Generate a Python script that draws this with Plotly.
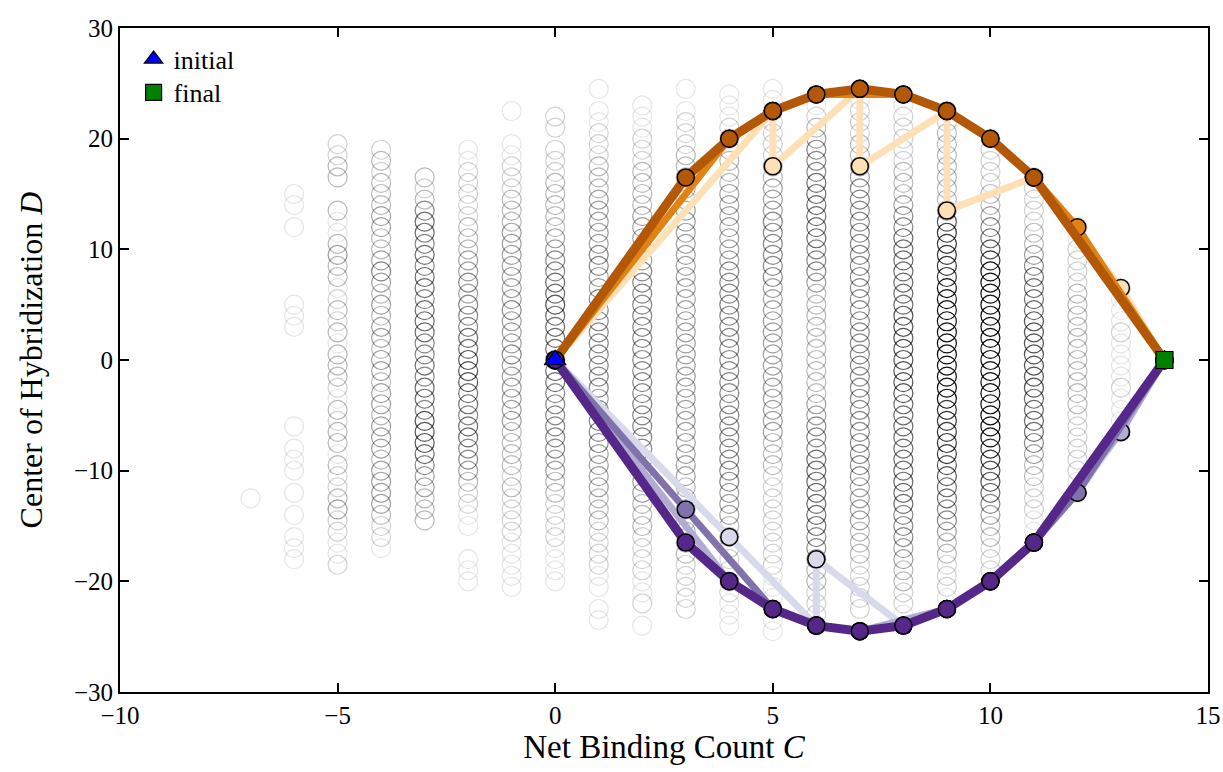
import plotly.graph_objects as go

# ---------------- background states (hollow circles) ----------------
# column C value, top D value, alpha code per unit step downward ('0' = empty)
bg_C = [-7, -6, -5, -4, -3, -2, -1, 0, 1, 2, 3, 4, 5, 6, 7, 8, 9, 10, 11, 12, 13]
bg_top = [-12.5, 15, 19.5, 19, 16.5, 19, 22.5, 22, 24.5, 23, 24.5, 24, 24.5, 23, 24.5, 23, 22.5, 20, 16.5, 12, 6.5]
bg_codes = [
    "1",
    "1101000000" "1110000000" "0101110101" "0111",
    "2233003113" "4331232313" "3321323313" "223422112",
    "2323334433" "4543434434" "4344344434" "4443221",
    "3235665656" "6566655656" "6577765443" "33",
    "1122222333" "4454555667" "7766566554" "3221100111",
    "1001122233" "3444444454" "4454444443" "3332322221" "1111",
    "2202223333" "3445566766" "6666655555" "5443322221" "111",
    "1011222333" "4444455445" "5555555545" "5554444333" "222211011",
    "1112223333" "4444455555" "5555555555" "5544443332" "22211201",
    "1012223333" "3444444444" "4444444444" "4444443333" "33322222",
    "1112233334" "4444445555" "5555555555" "5555554443" "332222111",
    "1122222334" "4455555544" "4444444444" "4433322222" "2222111111",
    "1234555666" "6665554333" "3333333445" "5566666665" "54332222",
    "1122233345" "5555555555" "5555555555" "5555554444" "33322222",
    "1222223334" "5566666667" "7777777666" "6666666555" "4433221",
    "2233333334" "7888889999" "9999999888" "8877665543" "32221",
    "1222233456" "7899999999" "9999999988" "7765433222",
    "2222233456" "6667777777" "6666543322" "211",
    "1122223333" "3333333222" "22211",
    "11112111121111",
]
alpha_levels = {"1": 0.1, "2": 0.18, "3": 0.28, "4": 0.38, "5": 0.48,
                "6": 0.58, "7": 0.68, "8": 0.8, "9": 0.95}

# ---------------- trajectories ----------------
peach_C = [0, 5, 5, 7, 7, 9, 9, 11, 13, 14]
peach_D = [0, 22.5, 17.5, 24.5, 17.5, 22.5, 13.5, 16.5, 6.5, 0]

orange_mid_C = [0, 4, 5, 6, 8, 9, 10, 11, 12, 14]
orange_mid_D = [0, 20, 22.5, 24, 24, 22.5, 20, 16.5, 12, 0]

orange_dark_C = [0, 3, 4, 5, 6, 7, 8, 9, 10, 11, 14]
orange_dark_D = [0, 16.5, 20, 22.5, 24, 24.5, 24, 22.5, 20, 16.5, 0]

lav_C = [0, 4, 6, 6, 8, 9, 10, 11, 12, 13, 14]
lav_D = [0, -16, -24, -18, -24, -22.5, -20, -16.5, -12, -6.5, 0]

purple_light_C = [0, 4, 5, 6, 7, 9, 10, 11, 13, 14]
purple_light_D = [0, -20, -22.5, -24, -24.5, -22.5, -20, -16.5, -6.5, 0]

purple_mid_C = [0, 3, 5, 6, 7, 8, 9, 10, 11, 12, 14]
purple_mid_D = [0, -13.5, -22.5, -24, -24.5, -24, -22.5, -20, -16.5, -12, 0]

purple_dark_C = [0, 3, 4, 5, 6, 7, 8, 9, 10, 11, 14]
purple_dark_D = [0, -16.5, -20, -22.5, -24, -24.5, -24, -22.5, -20, -16.5, 0]

initial_C, initial_D = [0], [0]
final_C, final_D = [14], [0]

FONT = "Liberation Serif"

fig = go.Figure()

# background circles
bx, by, bcol = [], [], []
for c, top, codes in zip(bg_C, bg_top, bg_codes):
    for i, ch in enumerate(codes):
        if ch == "0":
            continue
        bx.append(c)
        by.append(top - i)
        bcol.append(f"rgba(0,0,0,{alpha_levels[ch]})")

fig.add_trace(go.Scatter(
    x=bx, y=by, mode="markers", showlegend=False, hoverinfo="skip",
    marker=dict(symbol="circle-open", size=19, color=bcol, line=dict(width=1.2)),
))

paths = [
    (peach_C, peach_D, "#fee0b6", 7),
    (orange_mid_C, orange_mid_D, "#e08214", 7),
    (orange_dark_C, orange_dark_D, "#b35806", 9),
    (lav_C, lav_D, "#d8daeb", 7),
    (purple_light_C, purple_light_D, "#b2abd2", 7),
    (purple_mid_C, purple_mid_D, "#8073ac", 7),
    (purple_dark_C, purple_dark_D, "#542788", 9),
]
for cx, dy, col, lw in paths:
    fig.add_trace(go.Scatter(
        x=cx, y=dy, mode="lines+markers", showlegend=False, hoverinfo="skip",
        line=dict(color=col, width=lw),
        marker=dict(symbol="circle", size=17, color=col, line=dict(color="black", width=1.5)),
    ))

fig.add_trace(go.Scatter(
    x=initial_C, y=initial_D, mode="markers", name="initial", legend="legend",
    marker=dict(symbol="triangle-up", size=19, color="#0000ff", line=dict(color="black", width=1.2)),
))
fig.add_trace(go.Scatter(
    x=final_C, y=final_D, mode="markers", name="final", legend="legend2",
    marker=dict(symbol="square", size=17, color="#008000", line=dict(color="black", width=1.2)),
))

axis_common = dict(
    showline=True, linecolor="black", linewidth=2, mirror="ticks",
    ticks="inside", ticklen=9, tickwidth=1.5, tickcolor="black",
    showgrid=False, zeroline=False, automargin=False,
    tickfont=dict(family=FONT, size=25, color="black"),
)

leg_common = dict(xanchor="left", yanchor="middle", bgcolor="rgba(0,0,0,0)",
                  font=dict(family=FONT, size=26, color="black"), itemwidth=30,
                  borderwidth=0)

fig.update_layout(
    width=1223, height=772,
    margin=dict(l=120, r=15, t=28, b=80),
    plot_bgcolor="white", paper_bgcolor="white",
    xaxis=dict(range=[-10, 15], tickvals=[-10, -5, 0, 5, 10, 15],
               title=dict(text="Net Binding Count <i>C</i>", font=dict(family=FONT, size=33, color="black"), standoff=6),
               **axis_common),
    yaxis=dict(range=[-30, 30], tickvals=[-30, -20, -10, 0, 10, 20, 30],
               title=dict(text="Center of Hybridization <i>D</i>", font=dict(family=FONT, size=32, color="black"), standoff=22),
               **axis_common),
    legend=dict(x=0.0125, y=0.953, **leg_common),
    legend2=dict(x=0.0125, y=0.903, **leg_common),
)

fig.write_html("out.html")
